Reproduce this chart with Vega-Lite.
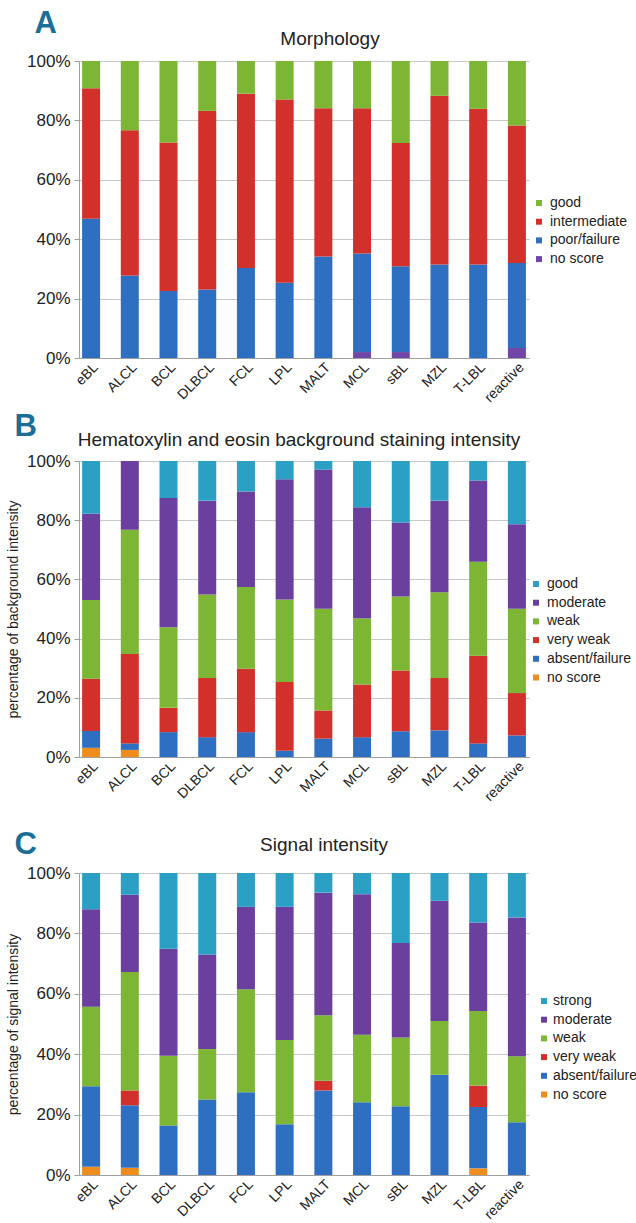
{
  "$schema": "https://vega.github.io/schema/vega-lite/v6.json",
  "background": "white",
  "padding": {"left": 6, "top": 8, "right": 4, "bottom": 0},
  "config": {
    "font": "Liberation Sans",
    "view": {"stroke": null},
    "axis": {
      "labelFont": "Liberation Sans",
      "titleFont": "Liberation Sans",
      "labelColor": "#222222",
      "titleColor": "#222222",
      "titleFontWeight": "normal",
      "domainColor": "#a0a0a0",
      "gridColor": "#c8c8c8",
      "tickColor": "#a0a0a0"
    },
    "legend": {
      "labelFont": "Liberation Sans",
      "labelFontSize": 14,
      "labelColor": "#222222",
      "symbolType": "square",
      "symbolSize": 36,
      "symbolStrokeWidth": 0,
      "rowPadding": 4.7,
      "labelOffset": 4
    },
    "title": {"font": "Liberation Sans", "fontWeight": "normal", "color": "#222222"}
  },
  "resolve": {"scale": {"color": "independent"}, "legend": {"color": "independent"}},
  "spacing": 6,
  "datasets": {
    "morph": [
      {"t": "eBL", "s": "poor/failure", "k": 1, "v": 46.9}, {"t": "eBL", "s": "intermediate", "k": 2, "v": 43.9}, {"t": "eBL", "s": "good", "k": 3, "v": 9.2},
      {"t": "ALCL", "s": "poor/failure", "k": 1, "v": 27.8}, {"t": "ALCL", "s": "intermediate", "k": 2, "v": 48.9}, {"t": "ALCL", "s": "good", "k": 3, "v": 23.3},
      {"t": "BCL", "s": "poor/failure", "k": 1, "v": 22.6}, {"t": "BCL", "s": "intermediate", "k": 2, "v": 50.0}, {"t": "BCL", "s": "good", "k": 3, "v": 27.4},
      {"t": "DLBCL", "s": "poor/failure", "k": 1, "v": 23.1}, {"t": "DLBCL", "s": "intermediate", "k": 2, "v": 60.1}, {"t": "DLBCL", "s": "good", "k": 3, "v": 16.8},
      {"t": "FCL", "s": "poor/failure", "k": 1, "v": 30.3}, {"t": "FCL", "s": "intermediate", "k": 2, "v": 58.7}, {"t": "FCL", "s": "good", "k": 3, "v": 11.0},
      {"t": "LPL", "s": "poor/failure", "k": 1, "v": 25.3}, {"t": "LPL", "s": "intermediate", "k": 2, "v": 61.7}, {"t": "LPL", "s": "good", "k": 3, "v": 13.0},
      {"t": "MALT", "s": "poor/failure", "k": 1, "v": 34.2}, {"t": "MALT", "s": "intermediate", "k": 2, "v": 49.9}, {"t": "MALT", "s": "good", "k": 3, "v": 15.9},
      {"t": "MCL", "s": "no score", "k": 0, "v": 2.0}, {"t": "MCL", "s": "poor/failure", "k": 1, "v": 33.2}, {"t": "MCL", "s": "intermediate", "k": 2, "v": 48.9}, {"t": "MCL", "s": "good", "k": 3, "v": 15.9},
      {"t": "sBL", "s": "no score", "k": 0, "v": 2.0}, {"t": "sBL", "s": "poor/failure", "k": 1, "v": 28.9}, {"t": "sBL", "s": "intermediate", "k": 2, "v": 41.5}, {"t": "sBL", "s": "good", "k": 3, "v": 27.6},
      {"t": "MZL", "s": "poor/failure", "k": 1, "v": 31.5}, {"t": "MZL", "s": "intermediate", "k": 2, "v": 56.8}, {"t": "MZL", "s": "good", "k": 3, "v": 11.7},
      {"t": "T-LBL", "s": "poor/failure", "k": 1, "v": 31.5}, {"t": "T-LBL", "s": "intermediate", "k": 2, "v": 52.4}, {"t": "T-LBL", "s": "good", "k": 3, "v": 16.1},
      {"t": "reactive", "s": "no score", "k": 0, "v": 3.4}, {"t": "reactive", "s": "poor/failure", "k": 1, "v": 28.6}, {"t": "reactive", "s": "intermediate", "k": 2, "v": 46.3}, {"t": "reactive", "s": "good", "k": 3, "v": 21.7}
    ],
    "he": [
      {"t": "eBL", "s": "no score", "k": 0, "v": 3.1}, {"t": "eBL", "s": "absent/failure", "k": 1, "v": 5.7}, {"t": "eBL", "s": "very weak", "k": 2, "v": 17.6}, {"t": "eBL", "s": "weak", "k": 3, "v": 26.6}, {"t": "eBL", "s": "moderate", "k": 4, "v": 29.2}, {"t": "eBL", "s": "good", "k": 5, "v": 17.8},
      {"t": "ALCL", "s": "no score", "k": 0, "v": 2.4}, {"t": "ALCL", "s": "absent/failure", "k": 1, "v": 2.2}, {"t": "ALCL", "s": "very weak", "k": 2, "v": 30.2}, {"t": "ALCL", "s": "weak", "k": 3, "v": 42.0}, {"t": "ALCL", "s": "moderate", "k": 4, "v": 23.2},
      {"t": "BCL", "s": "absent/failure", "k": 1, "v": 8.4}, {"t": "BCL", "s": "very weak", "k": 2, "v": 8.2}, {"t": "BCL", "s": "weak", "k": 3, "v": 27.2}, {"t": "BCL", "s": "moderate", "k": 4, "v": 43.7}, {"t": "BCL", "s": "good", "k": 5, "v": 12.5},
      {"t": "DLBCL", "s": "absent/failure", "k": 1, "v": 6.7}, {"t": "DLBCL", "s": "very weak", "k": 2, "v": 20.0}, {"t": "DLBCL", "s": "weak", "k": 3, "v": 28.2}, {"t": "DLBCL", "s": "moderate", "k": 4, "v": 31.7}, {"t": "DLBCL", "s": "good", "k": 5, "v": 13.4},
      {"t": "FCL", "s": "absent/failure", "k": 1, "v": 8.4}, {"t": "FCL", "s": "very weak", "k": 2, "v": 21.4}, {"t": "FCL", "s": "weak", "k": 3, "v": 27.6}, {"t": "FCL", "s": "moderate", "k": 4, "v": 32.3}, {"t": "FCL", "s": "good", "k": 5, "v": 10.3},
      {"t": "LPL", "s": "absent/failure", "k": 1, "v": 2.1}, {"t": "LPL", "s": "very weak", "k": 2, "v": 23.2}, {"t": "LPL", "s": "weak", "k": 3, "v": 27.9}, {"t": "LPL", "s": "moderate", "k": 4, "v": 40.6}, {"t": "LPL", "s": "good", "k": 5, "v": 6.2},
      {"t": "MALT", "s": "absent/failure", "k": 1, "v": 6.2}, {"t": "MALT", "s": "very weak", "k": 2, "v": 9.5}, {"t": "MALT", "s": "weak", "k": 3, "v": 34.4}, {"t": "MALT", "s": "moderate", "k": 4, "v": 47.0}, {"t": "MALT", "s": "good", "k": 5, "v": 2.9},
      {"t": "MCL", "s": "absent/failure", "k": 1, "v": 6.7}, {"t": "MCL", "s": "very weak", "k": 2, "v": 17.8}, {"t": "MCL", "s": "weak", "k": 3, "v": 22.4}, {"t": "MCL", "s": "moderate", "k": 4, "v": 37.5}, {"t": "MCL", "s": "good", "k": 5, "v": 15.6},
      {"t": "sBL", "s": "absent/failure", "k": 1, "v": 8.7}, {"t": "sBL", "s": "very weak", "k": 2, "v": 20.5}, {"t": "sBL", "s": "weak", "k": 3, "v": 25.0}, {"t": "sBL", "s": "moderate", "k": 4, "v": 25.0}, {"t": "sBL", "s": "good", "k": 5, "v": 20.8},
      {"t": "MZL", "s": "absent/failure", "k": 1, "v": 9.0}, {"t": "MZL", "s": "very weak", "k": 2, "v": 17.7}, {"t": "MZL", "s": "weak", "k": 3, "v": 29.0}, {"t": "MZL", "s": "moderate", "k": 4, "v": 30.9}, {"t": "MZL", "s": "good", "k": 5, "v": 13.4},
      {"t": "T-LBL", "s": "absent/failure", "k": 1, "v": 4.6}, {"t": "T-LBL", "s": "very weak", "k": 2, "v": 29.6}, {"t": "T-LBL", "s": "weak", "k": 3, "v": 31.8}, {"t": "T-LBL", "s": "moderate", "k": 4, "v": 27.4}, {"t": "T-LBL", "s": "good", "k": 5, "v": 6.6},
      {"t": "reactive", "s": "absent/failure", "k": 1, "v": 7.3}, {"t": "reactive", "s": "very weak", "k": 2, "v": 14.3}, {"t": "reactive", "s": "weak", "k": 3, "v": 28.5}, {"t": "reactive", "s": "moderate", "k": 4, "v": 28.5}, {"t": "reactive", "s": "good", "k": 5, "v": 21.4}
    ],
    "signal": [
      {"t": "eBL", "s": "no score", "k": 0, "v": 2.7}, {"t": "eBL", "s": "absent/failure", "k": 1, "v": 26.7}, {"t": "eBL", "s": "weak", "k": 3, "v": 26.3}, {"t": "eBL", "s": "moderate", "k": 4, "v": 32.3}, {"t": "eBL", "s": "strong", "k": 5, "v": 12.0},
      {"t": "ALCL", "s": "no score", "k": 0, "v": 2.4}, {"t": "ALCL", "s": "absent/failure", "k": 1, "v": 20.7}, {"t": "ALCL", "s": "very weak", "k": 2, "v": 4.9}, {"t": "ALCL", "s": "weak", "k": 3, "v": 39.2}, {"t": "ALCL", "s": "moderate", "k": 4, "v": 25.6}, {"t": "ALCL", "s": "strong", "k": 5, "v": 7.2},
      {"t": "BCL", "s": "absent/failure", "k": 1, "v": 16.4}, {"t": "BCL", "s": "weak", "k": 3, "v": 23.1}, {"t": "BCL", "s": "moderate", "k": 4, "v": 35.4}, {"t": "BCL", "s": "strong", "k": 5, "v": 25.1},
      {"t": "DLBCL", "s": "absent/failure", "k": 1, "v": 25.0}, {"t": "DLBCL", "s": "weak", "k": 3, "v": 16.7}, {"t": "DLBCL", "s": "moderate", "k": 4, "v": 31.3}, {"t": "DLBCL", "s": "strong", "k": 5, "v": 27.0},
      {"t": "FCL", "s": "absent/failure", "k": 1, "v": 27.4}, {"t": "FCL", "s": "weak", "k": 3, "v": 34.1}, {"t": "FCL", "s": "moderate", "k": 4, "v": 27.3}, {"t": "FCL", "s": "strong", "k": 5, "v": 11.2},
      {"t": "LPL", "s": "absent/failure", "k": 1, "v": 16.8}, {"t": "LPL", "s": "weak", "k": 3, "v": 27.9}, {"t": "LPL", "s": "moderate", "k": 4, "v": 44.1}, {"t": "LPL", "s": "strong", "k": 5, "v": 11.2},
      {"t": "MALT", "s": "absent/failure", "k": 1, "v": 28.0}, {"t": "MALT", "s": "very weak", "k": 2, "v": 3.2}, {"t": "MALT", "s": "weak", "k": 3, "v": 21.7}, {"t": "MALT", "s": "moderate", "k": 4, "v": 40.6}, {"t": "MALT", "s": "strong", "k": 5, "v": 6.5},
      {"t": "MCL", "s": "absent/failure", "k": 1, "v": 24.1}, {"t": "MCL", "s": "weak", "k": 3, "v": 22.3}, {"t": "MCL", "s": "moderate", "k": 4, "v": 46.6}, {"t": "MCL", "s": "strong", "k": 5, "v": 7.0},
      {"t": "sBL", "s": "absent/failure", "k": 1, "v": 22.8}, {"t": "sBL", "s": "weak", "k": 3, "v": 22.7}, {"t": "sBL", "s": "moderate", "k": 4, "v": 31.3}, {"t": "sBL", "s": "strong", "k": 5, "v": 23.2},
      {"t": "MZL", "s": "absent/failure", "k": 1, "v": 33.2}, {"t": "MZL", "s": "weak", "k": 3, "v": 17.8}, {"t": "MZL", "s": "moderate", "k": 4, "v": 39.8}, {"t": "MZL", "s": "strong", "k": 5, "v": 9.2},
      {"t": "T-LBL", "s": "no score", "k": 0, "v": 2.2}, {"t": "T-LBL", "s": "absent/failure", "k": 1, "v": 20.3}, {"t": "T-LBL", "s": "very weak", "k": 2, "v": 7.1}, {"t": "T-LBL", "s": "weak", "k": 3, "v": 24.7}, {"t": "T-LBL", "s": "moderate", "k": 4, "v": 29.3}, {"t": "T-LBL", "s": "strong", "k": 5, "v": 16.4},
      {"t": "reactive", "s": "absent/failure", "k": 1, "v": 17.5}, {"t": "reactive", "s": "weak", "k": 3, "v": 21.8}, {"t": "reactive", "s": "moderate", "k": 4, "v": 46.0}, {"t": "reactive", "s": "strong", "k": 5, "v": 14.7}
    ]
  },
  "vconcat": [
    {
      "title": {"text": "A", "anchor": "start", "fontSize": 31, "fontWeight": "bold", "color": "#1b6f97", "offset": -10, "dx": 8},
      "vconcat": [
        {
          "width": 450, "height": 297,
          "data": {"name": "morph"},
          "title": {"text": "Morphology", "fontSize": 19, "offset": 3, "dx": 26},
          "mark": {"type": "bar"},
          "encoding": {
            "x": {"field": "t", "type": "nominal", "sort": ["eBL","ALCL","BCL","DLBCL","FCL","LPL","MALT","MCL","sBL","MZL","T-LBL","reactive"],
                  "scale": {"paddingInner": 0.535, "paddingOuter": 0.08},
                  "axis": {"title": null, "labelAngle": -45, "labelFontSize": 14, "ticks": false, "labelPadding": 2}},
            "y": {"field": "v", "type": "quantitative", "stack": "normalize",
                  "axis": {"title": null, "format": ".0%", "values": [0, 0.2, 0.4, 0.6, 0.8, 1], "labelFontSize": 17, "tickSize": 5, "labelPadding": 4}},
            "order": {"field": "k", "type": "quantitative", "sort": "ascending"},
            "color": {"field": "s", "type": "nominal",
                      "scale": {"domain": ["good", "intermediate", "poor/failure", "no score"], "range": ["#7db535", "#d2302b", "#2f6fc2", "#7146a6"]},
                      "legend": {"title": null, "orient": "none", "legendX": 453, "legendY": 135}}
          }
        }
      ]
    },
    {
      "spacing": 25,
      "resolve": {"scale": {"color": "independent"}, "legend": {"color": "independent"}},
      "vconcat": [
        {
          "title": {"text": "B", "anchor": "start", "fontSize": 31, "fontWeight": "bold", "color": "#1b6f97", "offset": -12, "dx": 8},
          "vconcat": [
            {
              "width": 450, "height": 296,
              "data": {"name": "he"},
              "title": {"text": "Hematoxylin and eosin background staining intensity", "fontSize": 19, "offset": 2, "dx": -5},
              "mark": {"type": "bar"},
              "encoding": {
                "x": {"field": "t", "type": "nominal", "sort": ["eBL","ALCL","BCL","DLBCL","FCL","LPL","MALT","MCL","sBL","MZL","T-LBL","reactive"],
                      "scale": {"paddingInner": 0.535, "paddingOuter": 0.08},
                      "axis": {"title": null, "labelAngle": -45, "labelFontSize": 14, "ticks": false, "labelPadding": 2}},
                "y": {"field": "v", "type": "quantitative", "stack": "normalize",
                      "axis": {"title": "percentage of background intensity", "titleFontSize": 14, "titlePadding": 6, "format": ".0%", "values": [0, 0.2, 0.4, 0.6, 0.8, 1], "labelFontSize": 17, "tickSize": 5, "labelPadding": 4}},
                "order": {"field": "k", "type": "quantitative", "sort": "ascending"},
                "color": {"field": "s", "type": "nominal",
                          "scale": {"domain": ["good", "moderate", "weak", "very weak", "absent/failure", "no score"], "range": ["#2ba0c4", "#6a3f9e", "#7db535", "#d2302b", "#2f6fc2", "#ee8c1e"]},
                          "legend": {"title": null, "orient": "none", "legendX": 450, "legendY": 116}}
              }
            }
          ]
        },
        {
          "title": {"text": "C", "anchor": "start", "fontSize": 31, "fontWeight": "bold", "color": "#1b6f97", "offset": -25, "dx": 8},
          "vconcat": [
            {
              "width": 450, "height": 302,
              "data": {"name": "signal"},
              "title": {"text": "Signal intensity", "fontSize": 19, "offset": 9, "dx": 20},
              "mark": {"type": "bar"},
              "encoding": {
                "x": {"field": "t", "type": "nominal", "sort": ["eBL","ALCL","BCL","DLBCL","FCL","LPL","MALT","MCL","sBL","MZL","T-LBL","reactive"],
                      "scale": {"paddingInner": 0.535, "paddingOuter": 0.08},
                      "axis": {"title": null, "labelAngle": -45, "labelFontSize": 14, "ticks": false, "labelPadding": 2}},
                "y": {"field": "v", "type": "quantitative", "stack": "normalize",
                      "axis": {"title": "percentage of signal intensity", "titleFontSize": 14, "titlePadding": 6, "format": ".0%", "values": [0, 0.2, 0.4, 0.6, 0.8, 1], "labelFontSize": 17, "tickSize": 5, "labelPadding": 4}},
                "order": {"field": "k", "type": "quantitative", "sort": "ascending"},
                "color": {"field": "s", "type": "nominal",
                          "scale": {"domain": ["strong", "moderate", "weak", "very weak", "absent/failure", "no score"], "range": ["#2ba0c4", "#6a3f9e", "#7db535", "#d2302b", "#2f6fc2", "#ee8c1e"]},
                          "legend": {"title": null, "orient": "none", "legendX": 458, "legendY": 121, "labelOffset": 2}}
              }
            }
          ]
        }
      ]
    }
  ]
}
